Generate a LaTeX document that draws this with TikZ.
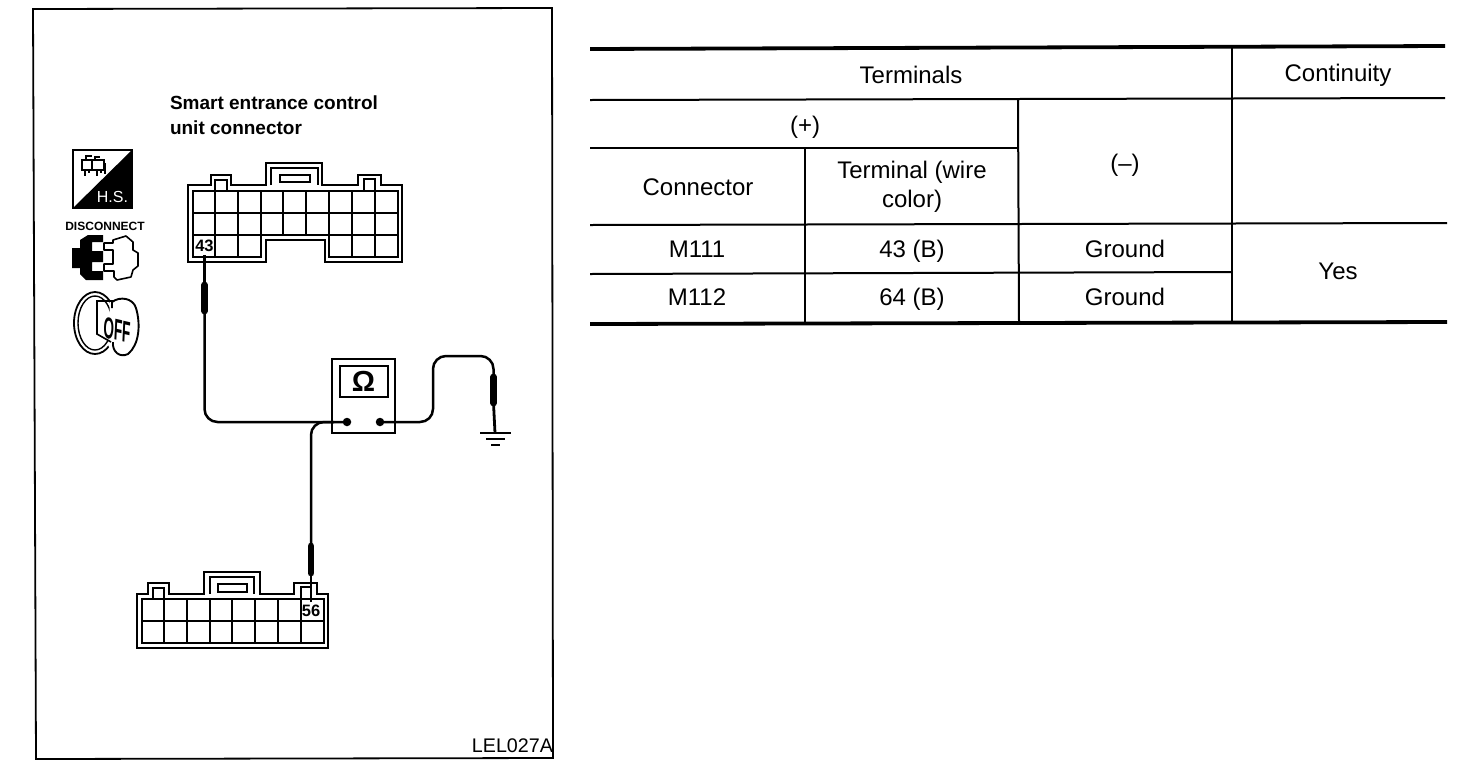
\documentclass[tikz,border=0pt]{standalone}
\usepackage{fontspec}
\setmainfont{Liberation Sans}
\usetikzlibrary{calc}
\tikzset{
  every node/.style={inner sep=0pt,outer sep=0pt},
  thinrule/.style={line width=2pt,black},
  thickrule/.style={line width=3.8pt,black},
  tabletext/.style={font=\fontsize{24}{29}\selectfont,align=center},
  boldlabel/.style={font=\bfseries\fontsize{19}{25}\selectfont,align=left,anchor=north west},
  shell/.style={line width=2.2pt,black,line join=miter},
  cell/.style={line width=2.5pt,black},
  wire/.style={line width=2.5pt,black,rounded corners=13pt},
  probe/.style={line width=6.8pt,black,line cap=round},
  tip/.style={line width=2.8pt,black},
  pin/.style={font=\bfseries\fontsize{16.5}{16}\selectfont},
  dotnode/.style={circle,fill=black,minimum size=8.5pt},
}
\begin{document}
\begin{tikzpicture}[x=1pt,y=-1pt]
\useasboundingbox (0,0) rectangle (1472,780);
\fill[white] (0,0) rectangle (1472,780);

% panel frame
\draw[line width=1.8pt] (33,9) -- (552,8) -- (553,758) -- (36,759) -- cycle;
\node[anchor=east,font=\fontsize{19.7}{20}\selectfont] (code) at (553,746) {LEL027A};
\node[boldlabel] (title) at (170,96) {Smart entrance control\\unit connector};

% H.S. icon
\draw[line width=1.8pt] (73,150) rectangle (132,208);
\fill (132,150) -- (132,208) -- (73,208) -- cycle;
\node[text=white,font=\fontsize{16}{16}\selectfont] (hs) at (112.5,197) {H.S.};
\draw[line width=1.2pt] (82,160) rectangle (92,170) (92,160) rectangle (104,170)
  (85,170) -- (85,176) (89,170) -- (89,173) (97,170) -- (97,176) (101,170) -- (101,173)
  (86,160) -- (86,156) -- (92,156) (95,160) -- (95,157) -- (100,157) (105,163) -- (105,174);

% DISCONNECT icon
\node[font=\bfseries\fontsize{12}{12}\selectfont] (disc) at (105,226.5) {DISCONNECT};
\fill (88,235) -- (103,235) -- (103,242) -- (92,242) -- (92,251) -- (103,251) -- (103,262) -- (92,262) -- (92,271) -- (103,271) -- (103,280) -- (86,280) -- (80,274) -- (80,268) -- (72,268) -- (72,248) -- (80,248) -- (80,240) -- cycle;
\draw[line width=1.6pt,line join=round] (113,240) -- (126,236) -- (133,242) -- (133,250) -- (138,253) -- (138,266) -- (133,270) -- (131,277) -- (117,280) -- (114,277) -- (114,271) -- (104,271) -- (104,264) -- (113,264) -- (113,250) -- (104,250) -- (104,243) -- (113,243) -- cycle;

% OFF key icon
\draw[line width=1.8pt] (95,323) ellipse[x radius=21,y radius=31];
\draw[line width=1.4pt] (95,323) ellipse[x radius=17,y radius=27];
\fill[white] (110,300) -- (137,298) -- (140,340) -- (115,358) -- (108,345) -- cycle;
\draw[line width=1.9pt,line join=round] (112,302) .. controls (120,296) and (133,298) .. (136,308) .. controls (141,325) and (139,345) .. (128,354) .. controls (120,358) and (112,352) .. (113,342);
\draw[line width=1.6pt] (97,300) -- (97,334) -- (111,342) (97,301) -- (112,301) -- (112,308);
\node[font=\bfseries\fontsize{30}{30}\selectfont,xscale=.45,rotate=-6] (off) at (117,330) {OFF};

% upper connector
\draw[shell] (188,185) -- (211,185) -- (211,175) -- (231,175) -- (231,185) -- (266,185) -- (266,163) -- (322,163) -- (322,185) -- (358,185) -- (358,175) -- (381,175) -- (381,185) -- (402,185) -- (402,262) -- (325,262) -- (325,240) -- (266,240) -- (266,262) -- (188,262) -- cycle;
\draw[shell] (215,191) -- (215,180) -- (227,180) -- (227,191) (364,191) -- (364,179) -- (375,179) -- (375,191) (271,185) -- (271,168) -- (318,168) -- (318,185);
\draw[line width=2.6pt] (280,175) rectangle (310,182);
\draw[cell] (193,191) rectangle (398,235);
\draw[cell] (193,213) -- (398,213);
\foreach \x in {215,238,261,283,306,329,352,375} \draw[cell] (\x,191) -- (\x,235);
\draw[cell] (193,235) -- (193,257) -- (261,257) -- (261,235);
\draw[cell] (329,235) -- (329,257) -- (398,257) -- (398,235);
\draw[cell] (215,235) -- (215,257) (238,235) -- (238,257) (352,235) -- (352,257) (375,235) -- (375,257);
\node[pin] (p43) at (204.5,246) {43};

% lower connector
\draw[shell] (137,594) -- (148,594) -- (148,583) -- (169,583) -- (169,594) -- (204,594) -- (204,572) -- (260,572) -- (260,594) -- (294,594) -- (294,583) -- (317,583) -- (317,594) -- (328,594) -- (328,648) -- (137,648) -- cycle;
\draw[shell] (153,599) -- (153,588) -- (164,588) -- (164,599) (301,599) -- (301,587) -- (312,587) (210,594) -- (210,577) -- (254,577) -- (254,594);
\draw[line width=2.6pt] (218,584) rectangle (247,592);
\draw[cell] (142,599) rectangle (324,643);
\draw[cell] (142,621) -- (324,621);
\foreach \x in {164,187,210,232,255,278,301} \draw[cell] (\x,599) -- (\x,643);
\fill[white] (302,601) rectangle (323,620);
\node[pin] (p56) at (311,611) {56};

% meter
\draw[line width=2.2pt] (332,359) rectangle (395,433);
\draw[line width=1.8pt] (340,366) rectangle (388,397);
\node[font=\bfseries\fontsize{29}{29}\selectfont] (ohm) at (363.5,381.5) {Ω};
\node[dotnode] (dotL) at (347,422) {};
\node[dotnode] (dotR) at (380,422) {};

% wires and probes
\coordinate (a1) at (204.5,255);
\coordinate (a2) at (204.5,285);
\coordinate (a3) at (204.5,311);
\coordinate (b1) at (311,602);
\coordinate (b2) at (311,573);
\coordinate (b3) at (311,546);
\coordinate (c1) at (493.5,377);
\coordinate (c2) at (493.5,403);
\coordinate (gnd) at (495,433);
\draw[tip] (a1) -- (a2);
\draw[probe] (a2) -- (a3);
\draw[wire] (a3) -- (204.5,422) -- (dotL.center);
\draw[tip] (b1) -- (b2);
\draw[probe] (b2) -- (b3);
\draw[wire] (b3) -- (311,422) -- (334,422);
\draw[wire] (dotR.center) -- (433,422) -- (433,356) -- (493.5,356) -- (c1);
\draw[probe] (c1) -- (c2);
\draw[tip] (c2) -- (gnd);
\draw[line width=2.6pt] (480,433) -- (511,433);
\draw[line width=2.6pt] (486,439) -- (505,439);
\draw[line width=2.6pt] (491,445) -- (500,445);

% table rules
\draw[thickrule] (590,49) -- (1445,46);
\draw[thickrule] (590,324) -- (1447,322);
\draw[thinrule] (590,100) -- (1445,98);
\draw[thinrule] (590,148) -- (1018,148);
\draw[thinrule] (590,225) -- (1447,223);
\draw[thinrule] (590,274) -- (1232,272);
\draw[thinrule] (805,148) -- (805,323);
\draw[thinrule] (1018,99) -- (1019,323);
\draw[line width=2.4pt] (1232,47) -- (1232,322);

% table text
\node[tabletext] (tTerm) at (911,74.5) {Terminals};
\node[tabletext] (tCont) at (1338,75) {Continuity};
\node[tabletext] (tPlus) at (805,127) {(+)};
\node[tabletext] (tMinus) at (1125,165) {(–)};
\node[tabletext] (tConn) at (698,187) {Connector};
\node[tabletext] (tWire) at (912,186.5) {Terminal (wire\\color)};
\node[tabletext] (r1a) at (697,249.5) {M111};
\node[tabletext] (r1b) at (912,251) {43 (B)};
\node[tabletext] (r1c) at (1125,248.5) {Ground};
\node[tabletext] (r2a) at (697,297.5) {M112};
\node[tabletext] (r2b) at (912,299) {64 (B)};
\node[tabletext] (r2c) at (1125,296.5) {Ground};
\node[tabletext] (yes) at (1338,271.5) {Yes};
\end{tikzpicture}
\end{document}
